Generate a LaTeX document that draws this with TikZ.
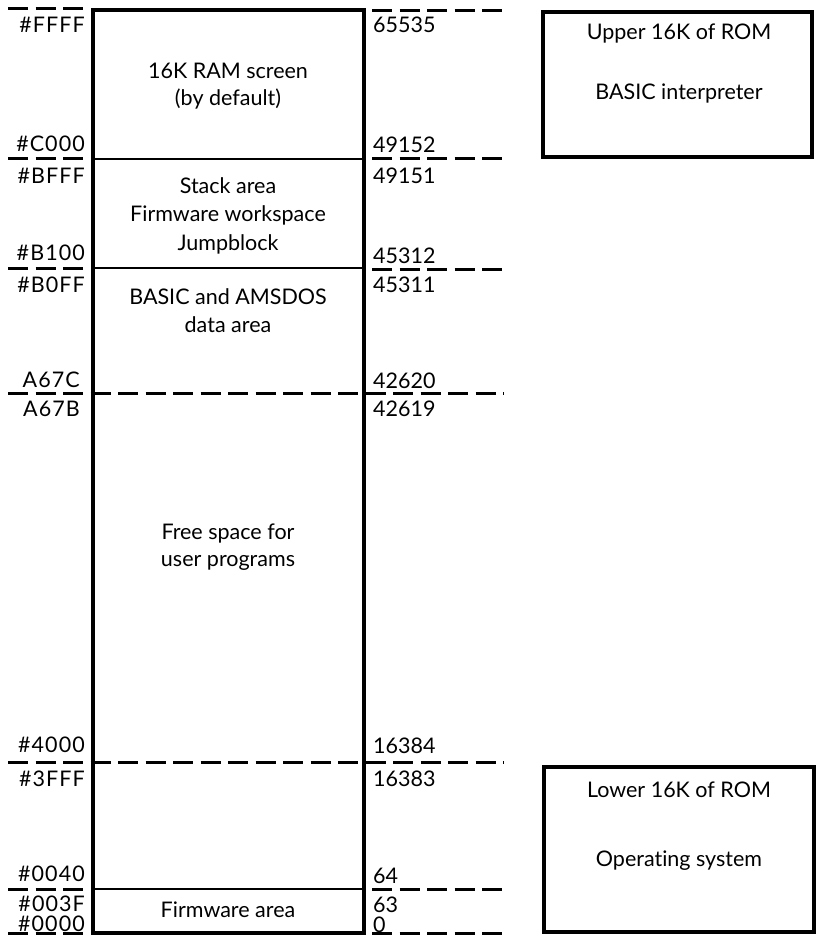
\documentclass[tikz,border=0pt]{standalone}
\usepackage{fontspec}
\setmainfont[Ligatures=NoCommon]{Lato}
\begin{document}
\begin{tikzpicture}[x=1pt,y=-1pt,
  lbl/.style={inner sep=0pt,font=\fontsize{21.5}{25}\selectfont},
  addrl/.style={lbl,anchor=base east,font=\fontsize{21.5}{25}\selectfont\addfontfeatures{LetterSpace=5}},
  addrr/.style={lbl,anchor=base west},
  txt/.style={lbl,anchor=base},
  dsh/.style={line width=3pt,dash pattern=on 20pt off 7.5pt},
  thick box/.style={line width=3.6pt},
  divider/.style={line width=2.5pt}]
\useasboundingbox (0,0) rectangle (818,935);
% main memory box
\draw[thick box] (93,10) rectangle (364,933);
\draw[divider] (93,159) -- (364,159);
\draw[divider] (93,268) -- (364,268);
\draw[divider] (93,889) -- (364,889);
% dashed address markers (left)
\foreach \yy in {8,158,268,889,933} \draw[dsh] (8,\yy) -- (84,\yy);
% dashed address markers (right)
\foreach \yy in {10,158,269,889,933} \draw[dsh] (372,\yy) -- (504,\yy);
% dashed lines across the box
\draw[dsh] (8,393) -- (504,393);
\draw[dsh] (8,762) -- (504,762);
% left addresses (hex)
\node[addrl] (hFFFF) at (85,32) {\#FFFF};
\node[addrl] (hC000) at (85,151) {\#C000};
\node[addrl] (hBFFF) at (85,183) {\#BFFF};
\node[addrl] (hB100) at (85,260) {\#B100};
\node[addrl] (hB0FF) at (85,292) {\#B0FF};
\node[addrl] (hA67C) at (80,387) {A67C};
\node[addrl] (hA67B) at (80,416) {A67B};
\node[addrl] (h4000) at (85,752) {\#4000};
\node[addrl] (h3FFF) at (85,786) {\#3FFF};
\node[addrl] (h0040) at (85,881) {\#0040};
\node[addrl] (h003F) at (85,911) {\#003F};
\node[addrl] (h0000) at (85,931) {\#0000};
% right addresses (decimal)
\node[addrr] (d65535) at (373,32) {65535};
\node[addrr] (d49152) at (373,152) {49152};
\node[addrr] (d49151) at (373,183) {49151};
\node[addrr] (d45312) at (373,263) {45312};
\node[addrr] (d45311) at (373,292) {45311};
\node[addrr] (d42620) at (373,388) {42620};
\node[addrr] (d42619) at (373,416) {42619};
\node[addrr] (d16384) at (373,753) {16384};
\node[addrr] (d16383) at (373,786) {16383};
\node[addrr] (d64) at (373,883) {64};
\node[addrr] (d63) at (373,912) {63};
\node[addrr] (d0) at (373,932) {0};
% region texts
\node[txt] (screen1) at (228,78) {16K RAM screen};
\node[txt] (screen2) at (228,105) {(by default)};
\node[txt] (stack1) at (228,193) {Stack area};
\node[txt] (stack2) at (228,221) {Firmware workspace};
\node[txt] (stack3) at (228,250) {Jumpblock};
\node[txt] (basic1) at (228,304) {BASIC and AMSDOS};
\node[txt] (basic2) at (228,332) {data area};
\node[txt] (free1) at (228,539) {Free space for};
\node[txt] (free2) at (228,566) {user programs};
\node[txt] (fw) at (228,917) {Firmware area};
% ROM boxes
\draw[thick box] (543,12) rectangle (812,157);
\node[txt] (up1) at (679,39) {Upper 16K of ROM};
\node[txt] (up2) at (679,99) {BASIC interpreter};
\draw[thick box] (544,767) rectangle (814,932);
\node[txt] (lo1) at (679,797) {Lower 16K of ROM};
\node[txt] (lo2) at (679,866) {Operating system};
\end{tikzpicture}
\end{document}
